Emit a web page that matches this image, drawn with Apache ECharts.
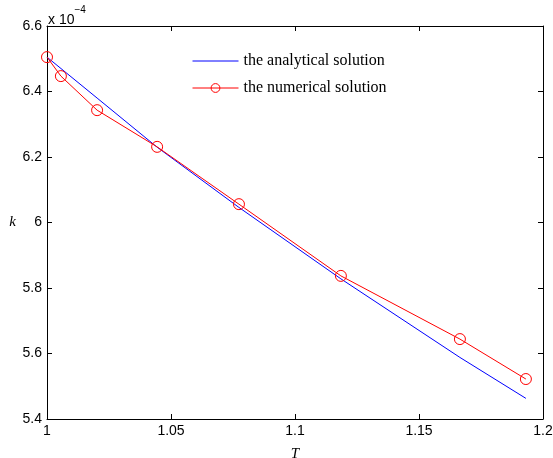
<!DOCTYPE html>
<html>
<head>
<meta charset="utf-8">
<script src="https://cdn.jsdelivr.net/npm/echarts@6/dist/echarts.min.js"></script>
<style>html,body{margin:0;padding:0;background:#fff}#c{width:553px;height:458px}</style>
</head>
<body>
<div id="c"></div>
<script>
// Data (k values in units of 1e-4)
const analyticalT = [1.0, 1.0202, 1.0444, 1.0774, 1.1185, 1.1665, 1.1931];
const analyticalK = [6.505, 6.380, 6.230, 6.046, 5.828, 5.588, 5.463];
const numericalT = [1.0, 1.0056, 1.0202, 1.0444, 1.0774, 1.1185, 1.1665, 1.1931];
const numericalK = [6.505, 6.447, 6.343, 6.231, 6.056, 5.837, 5.644, 5.522];
const xTicks = [1, 1.05, 1.1, 1.15, 1.2];
const yTicks = [5.4, 5.6, 5.8, 6, 6.2, 6.4, 6.6];
const seriesNames = ['the analytical solution', 'the numerical solution'];

const chart = echarts.init(document.getElementById('c'), null, {renderer: 'canvas'});
const fmt = v => String(Math.round(v * 1000) / 1000);
const tickFont = {fontFamily: 'Liberation Sans, Arial, sans-serif', fontSize: 14, color: '#000'};
const lineStyle = {color: '#000', width: 1};
chart.setOption({
  animation: false,
  backgroundColor: '#fff',
  grid: {left: 47, right: 10, top: 26, bottom: 39, containLabel: false, outerBoundsMode: 'none'},
  legend: {
    left: 192, top: 53, orient: 'vertical', itemWidth: 46, itemHeight: 11, itemGap: 11, padding: 0,
    textStyle: {fontFamily: 'Liberation Serif, Times New Roman, serif', fontSize: 16, color: '#000'},
    data: [
      {name: seriesNames[0], itemStyle: {opacity: 0}, lineStyle: {width: 1}},
      {name: seriesNames[1], lineStyle: {width: 1}, itemStyle: {borderWidth: 1}}
    ]
  },
  xAxis: [{
    type: 'value', min: xTicks[0], max: xTicks[xTicks.length - 1], interval: 0.05,
    name: 'T', nameLocation: 'middle', nameGap: 28,
    nameTextStyle: {fontFamily: 'Liberation Serif, serif', fontStyle: 'italic', fontSize: 15, color: '#000'},
    axisLine: {lineStyle}, axisTick: {inside: true, length: 5, lineStyle},
    axisLabel: Object.assign({formatter: fmt, margin: 5, showMaxLabel: true, showMinLabel: true}, tickFont),
    splitLine: {show: false}
  }, {
    type: 'value', position: 'top', min: xTicks[0], max: xTicks[xTicks.length - 1], interval: 0.05,
    axisLine: {lineStyle}, axisTick: {inside: true, length: 5, lineStyle},
    axisLabel: {show: false}, splitLine: {show: false}
  }],
  yAxis: [{
    type: 'value', min: yTicks[0], max: yTicks[yTicks.length - 1], interval: 0.2,
    name: 'k', nameLocation: 'middle', nameGap: 31, nameRotate: 0,
    nameTextStyle: {fontFamily: 'Liberation Serif, serif', fontStyle: 'italic', fontSize: 15, color: '#000'},
    axisLine: {show: true, lineStyle}, axisTick: {show: true, inside: true, length: 5, lineStyle},
    axisLabel: Object.assign({formatter: fmt, margin: 5}, tickFont),
    splitLine: {show: false}
  }, {
    type: 'value', position: 'right', min: yTicks[0], max: yTicks[yTicks.length - 1], interval: 0.2,
    axisLine: {show: true, lineStyle}, axisTick: {show: true, inside: true, length: 5, lineStyle},
    axisLabel: {show: false}, splitLine: {show: false}
  }],
  graphic: [{
    type: 'text', left: 48, top: 5,
    style: {
      text: '{a|x 10}{b|−4}',
      rich: {
        a: {fontFamily: 'Liberation Sans, Arial, sans-serif', fontSize: 14, fill: '#000', verticalAlign: 'bottom', padding: [8, 0, 0, 0]},
        b: {fontFamily: 'Liberation Sans, Arial, sans-serif', fontSize: 10, fill: '#000', verticalAlign: 'top'}
      }
    }
  }],
  series: [{
    name: seriesNames[0], type: 'line', symbol: 'none',
    data: analyticalT.map((t, i) => [t, analyticalK[i]]),
    lineStyle: {color: '#0000ff', width: 1}, itemStyle: {color: '#0000ff'}
  }, {
    name: seriesNames[1], type: 'line', symbol: 'circle', symbolSize: 11, showAllSymbol: true,
    data: numericalT.map((t, i) => [t, numericalK[i]]),
    lineStyle: {color: '#ff0000', width: 1},
    itemStyle: {color: 'rgba(0,0,0,0)', borderColor: '#ff0000', borderWidth: 1}
  }]
});
</script>
</body>
</html>
